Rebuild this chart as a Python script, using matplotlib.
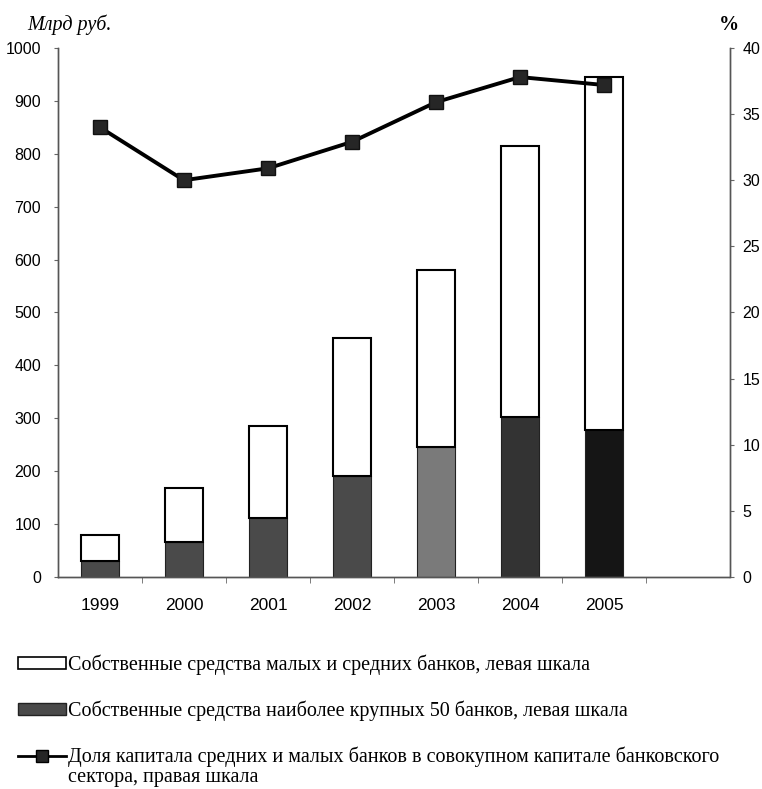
import numpy as np
import matplotlib.pyplot as plt
from matplotlib.patches import Patch
from matplotlib.lines import Line2D

# data
years = ['1999', '2000', '2001', '2002', '2003', '2004', '2005', '']
large50 = [31, 67, 111, 190, 246, 302, 278]          # largest 50 banks, bln rub
total = [79, 169, 285, 452, 580, 815, 946]           # bar tops, bln rub
small_mid = [t - l for t, l in zip(total, large50)]  # small and mid banks
share = [34.0, 30.0, 30.9, 32.9, 35.9, 37.8, 37.2]   # share, %
large_colors = ['#4a4a4a', '#4a4a4a', '#4a4a4a', '#4a4a4a', '#7a7a7a', '#333333', '#151515']

plt.rcParams['font.family'] = 'Liberation Sans'

fig = plt.figure(figsize=(7.62, 7.89), dpi=100)
ax = fig.add_axes([0.076, 0.2687, 0.882, 0.6705])
ax2 = ax.twinx()

x = np.arange(len(years))
n = len(large50)
ax.bar(x[:n], large50, width=0.45, color=large_colors, edgecolor='#222222', linewidth=0.8, zorder=2)
ax.bar(x[:n], small_mid, width=0.45, bottom=large50, color='white', edgecolor='black', linewidth=1.5, zorder=2)

ax2.plot(x[:n], share, color='black', linewidth=2.8, marker='s', markersize=10.5,
         markerfacecolor='#262626', markeredgecolor='#111111', zorder=3)

ax.set_xlim(-0.5, len(years) - 0.5)
ax.set_ylim(0, 1000)
ax2.set_ylim(0, 40)
ax.set_yticks(range(0, 1001, 100))
ax2.set_yticks(range(0, 41, 5))
ax.set_xticks(x[:n])
ax.set_xticklabels(years[:n])
ax.set_xticks(np.arange(0.5, len(years) - 0.5, 1), minor=True)
ax.tick_params(axis='x', which='major', length=0, pad=15, labelsize=12.5)
ax.tick_params(axis='x', which='minor', length=4, direction='out', color='#666666')
ax.tick_params(axis='y', length=3, color='#666666', labelsize=11.5, pad=9)
ax2.tick_params(axis='y', length=3, color='#666666', labelsize=11.5, pad=6)

for a in (ax, ax2):
    a.spines['top'].set_visible(False)
    for s in ('left', 'right', 'bottom'):
        a.spines[s].set_linestyle((0, (1, 1)))
        a.spines[s].set_color('#555555')
        a.spines[s].set_linewidth(1.0)

fig.text(0.036, 0.968, 'Млрд руб.', fontsize=14.5, family='Liberation Serif', style='italic', ha='left', va='center')
fig.text(0.944, 0.968, '%', fontsize=14.5, family='Liberation Serif', weight='bold', ha='left', va='center')

handles = [
    Patch(facecolor='white', edgecolor='black', linewidth=1.2),
    Patch(facecolor='#4a4a4a', edgecolor='#222222'),
    Line2D([], [], color='black', linewidth=2, marker='s', markersize=9, markerfacecolor='#262626'),
]
labels = [
    'Собственные средства малых и средних банков, левая шкала',
    'Собственные средства наиболее крупных 50 банков, левая шкала',
    'Доля капитала средних и малых банков в совокупном капитале банковского',
]
fig.legend(handles, labels, loc='upper left', bbox_to_anchor=(0.013, 0.181), frameon=False,
           prop={'family': 'Liberation Serif', 'size': 14.5}, handlelength=2.4, handletextpad=0.1,
           handleheight=0.55, labelspacing=1.28, borderaxespad=0)
fig.text(0.089, 0.0145, 'сектора, правая шкала', fontsize=14.5, family='Liberation Serif', ha='left', va='center')

fig.savefig('out.png', dpi=100)
